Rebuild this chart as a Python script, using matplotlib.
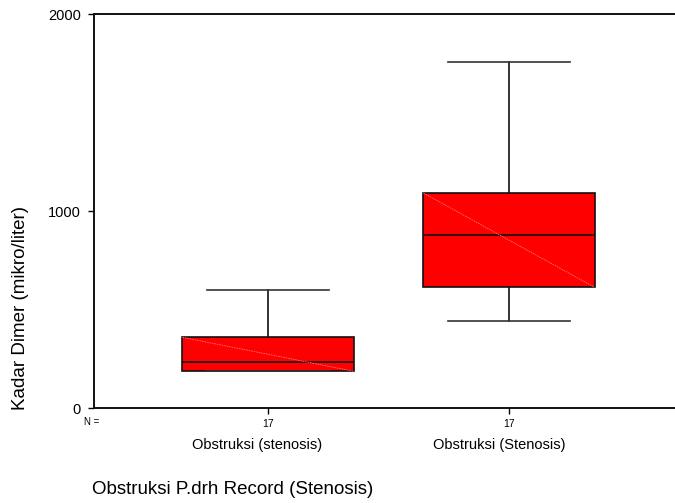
import matplotlib
matplotlib.use("Agg")
import matplotlib.pyplot as plt

plt.rcParams['font.family'] = ['Liberation Sans', 'DejaVu Sans']

categories = ["Obstruksi (stenosis)", "Obstruksi (Stenosis)"]
n_values = [17, 17]
whisker_low = [188, 444]
q1 = [188, 614]
median = [236, 877]
q3 = [360, 1092]
whisker_high = [600, 1758]
yticks = [0, 1000, 2000]

W, H = 675, 503
fig = plt.figure(figsize=(W/100, H/100), dpi=100)
ax = fig.add_axes([94/W, 1-408.3/H, 1-94/W, (408.3-14)/H])

positions = [1, 2]
stats = []
for i in range(len(categories)):
    stats.append(dict(med=median[i], q1=q1[i], q3=q3[i],
                      whislo=whisker_low[i], whishi=whisker_high[i], fliers=[]))

box_w = 0.71
ax.bxp(stats, positions=positions, widths=box_w, capwidths=0.506,
       patch_artist=True, showfliers=False,
       boxprops=dict(facecolor='#ff0000', edgecolor='#111111', linewidth=1.2),
       medianprops=dict(color='#111111', linewidth=1.2),
       whiskerprops=dict(color='#111111', linewidth=1.2),
       capprops=dict(color='#333333', linewidth=1.2))

for i, p in enumerate(positions):
    ax.plot([p - box_w/2, p + box_w/2], [q3[i], q1[i]], color='#ff7070',
            linewidth=0.6, linestyle=(0, (2, 1)), zorder=3)

ax.set_xlim(0.278, 2.689)
ax.set_ylim(0, 2000)
ax.set_yticks(yticks)
ax.set_yticklabels([str(t) for t in yticks], fontsize=10.5)
ax.set_xticks(positions)
ax.set_xticklabels([str(n) for n in n_values], fontsize=7.5)
ax.tick_params(axis='x', length=4, width=1, pad=4)
ax.tick_params(axis='y', length=4.5, width=1, pad=5)

for s in ['left', 'bottom', 'top']:
    ax.spines[s].set_linewidth(1.4)
    ax.spines[s].set_color('#111111')
ax.spines['right'].set_visible(False)

fig.text(21/W, 1-308/H, "Kadar Dimer (mikro/liter)", fontsize=13.5,
         rotation=90, va='center', ha='center')

fig.text(84/W, 1-422/H, "N =", fontsize=7, va='center', ha='left')
for p, c in zip([257, 499], categories):
    fig.text(p/W, 1-445/H, c, fontsize=10.5, va='center', ha='center')
fig.text(92/W, 1-489/H, "Obstruksi P.drh Record (Stenosis)", fontsize=13.5,
         va='center', ha='left')

fig.savefig("out.png", dpi=100)
